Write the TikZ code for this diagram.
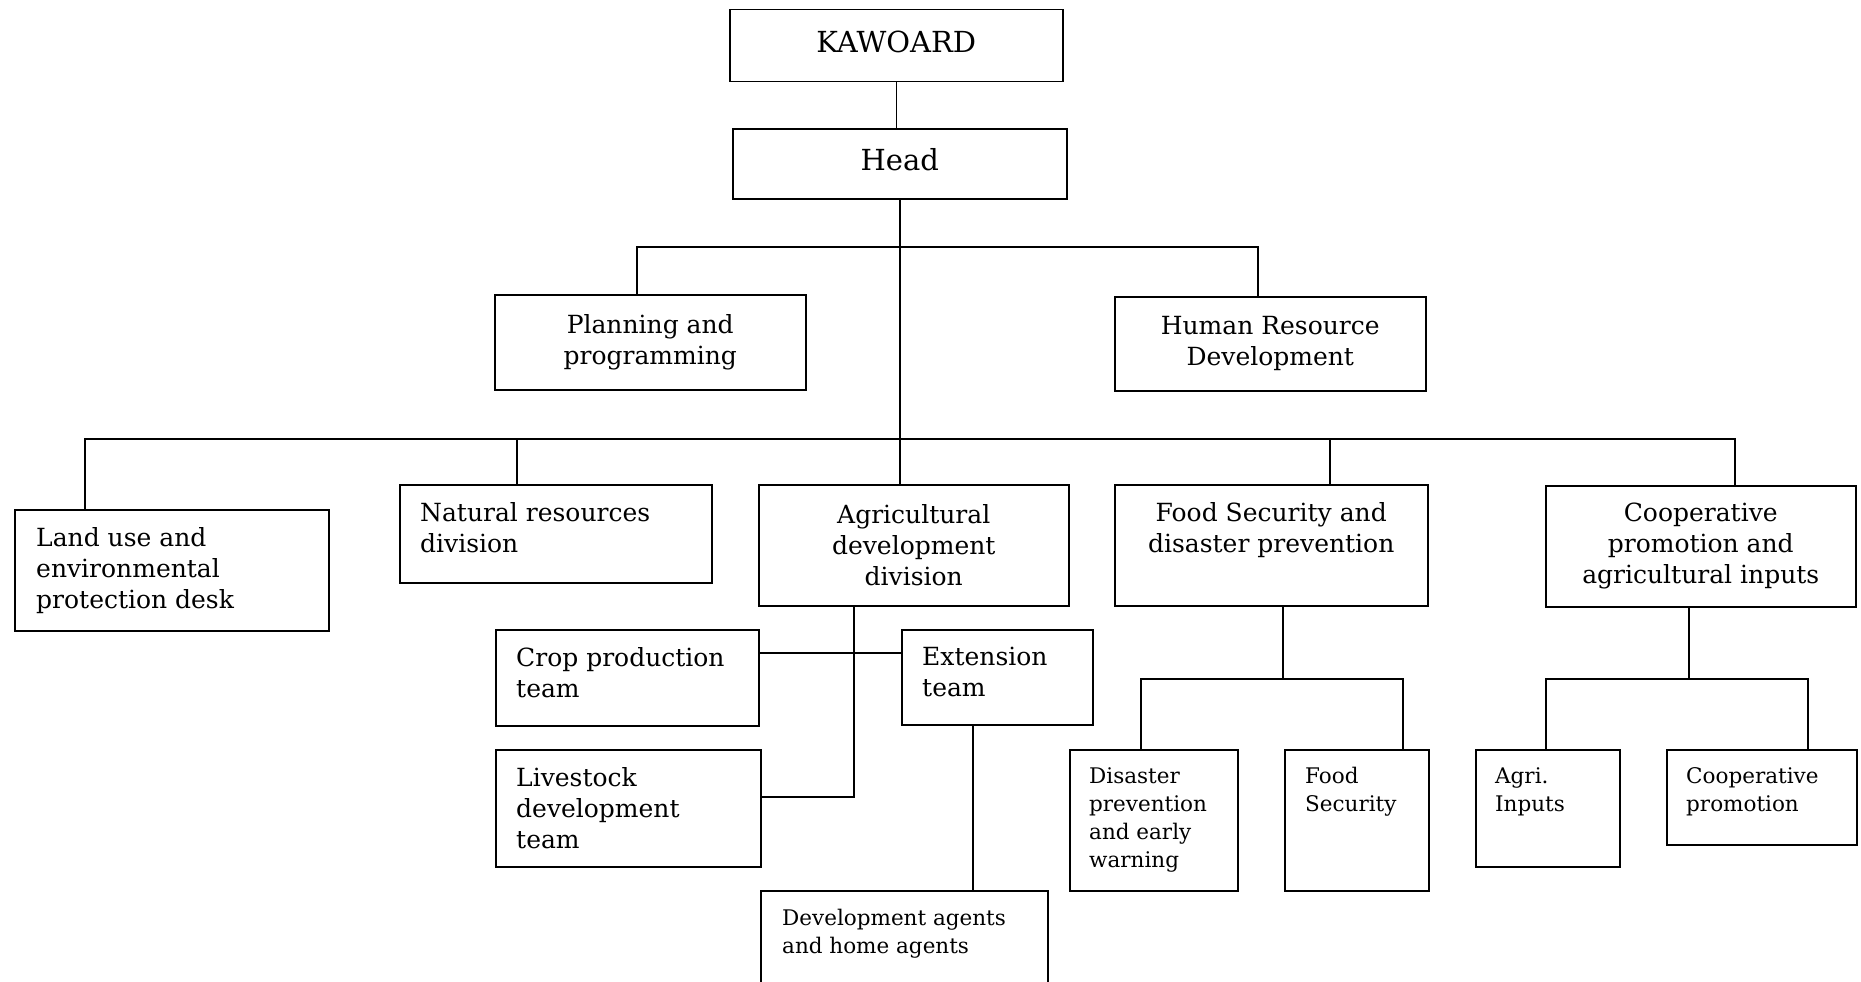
\documentclass[tikz,border=0pt]{standalone}
\usepackage{fontspec}
\setmainfont{DejaVu Serif}
\usetikzlibrary{positioning}

\tikzset{
  box/.style={draw, line width=1.5pt, anchor=north west, inner sep=0pt},
  link/.style={line width=1.5pt},
  bigfont/.style={font=\fontsize{29}{35}\selectfont, text depth=8pt},
  midfont/.style={font=\fontsize{25}{31}\selectfont, align=center},
  lefttext/.style={font=\fontsize{25}{31}\selectfont, inner sep=0pt, align=left, anchor=north west},
  smalltext/.style={font=\fontsize{21.5}{28}\selectfont, inner sep=0pt, align=left, anchor=north west}
}

\begin{document}
\begin{tikzpicture}[x=1pt,y=1pt,yscale=-1]
        \clip (0,0) rectangle (1861,982);

        % top of the chart
        \node[box, bigfont, minimum width=333, minimum height=72] (kawoard) at (729,9) {KAWOARD};
        \node[box, bigfont, minimum width=334, minimum height=70] (head) at (732,128) {Head};
        \node[box, midfont, minimum width=311, minimum height=95] (plan) at (494,294) {Planning and\\programming};
        \node[box, midfont, minimum width=311, minimum height=94] (hrd) at (1114,296) {Human Resource\\Development};

        % divisions
        \node[box, minimum width=314, minimum height=121] (land) at (14,509) {};
        \node[box, minimum width=312, minimum height=98] (natural) at (399,484) {};
        \node[box, midfont, minimum width=310, minimum height=121] (agri) at (758,484) {Agricultural\\development\\division};
        \node[box, minimum width=313, minimum height=121] (food) at (1114,484) {};
        \node[box, midfont, minimum width=310, minimum height=121] (coop) at (1545,485) {Cooperative\\promotion and\\agricultural inputs};

        % teams
        \node[box, minimum width=263, minimum height=96] (crop) at (495,629) {};
        \node[box, minimum width=191, minimum height=95] (ext) at (901,629) {};
        \node[box, minimum width=265, minimum height=117] (live) at (495,749) {};
        \node[box, minimum width=287, minimum height=130] (dev) at (760,890) {};
        \node[box, minimum width=168, minimum height=141] (disaster) at (1069,749) {};
        \node[box, minimum width=144, minimum height=141] (foodsec) at (1284,749) {};
        \node[box, minimum width=144, minimum height=117] (inputs) at (1475,749) {};
        \node[box, minimum width=190, minimum height=95] (coopprom) at (1666,749) {};

        % texts at the top of the boxes
        \node[lefttext] (landtxt) at ([shift={(22,18)}]land.north west) {Land use and\\environmental\\protection desk};
        \node[lefttext] (naturaltxt) at ([shift={(21,18)}]natural.north west) {Natural resources\\division};
        \node[lefttext, anchor=north, align=center] (foodtxt) at ([shift={(0,18)}]food.north) {Food Security and\\disaster prevention};
        \node[lefttext] (croptxt) at ([shift={(21,18)}]crop.north west) {Crop production\\team};
        \node[lefttext] (exttxt) at ([shift={(21,18)}]ext.north west) {Extension\\team};
        \node[lefttext] (livetxt) at ([shift={(21,18)}]live.north west) {Livestock\\development\\team};
        \node[smalltext] (devtxt) at ([shift={(22,19)}]dev.north west) {Development agents\\and home agents};
        \node[smalltext] (disastertxt) at ([shift={(20,18)}]disaster.north west) {Disaster\\prevention\\and early\\warning};
        \node[smalltext] (foodsectxt) at ([shift={(21,18)}]foodsec.north west) {Food\\Security};
        \node[smalltext] (inputstxt) at ([shift={(20,18)}]inputs.north west) {Agri.\\Inputs};
        \node[smalltext] (coopromtxt) at ([shift={(20,18)}]coopprom.north west) {Cooperative\\promotion};

        % joints of the lines
        \coordinate (pj) at (637,247);
        \coordinate (hj) at (1258,247);
        \coordinate (lj) at (85,439);
        \coordinate (nj) at (517,439);
        \coordinate (fj) at (1330,439);
        \coordinate (cj) at (1735,439);
        \coordinate (agbend) at (854,797);
        \coordinate (cebar) at (854,653);
        \coordinate (devdrop) at (973,800);
        \coordinate (fk) at (1283,679);
        \coordinate (fkl) at (1141,679);
        \coordinate (fkr) at (1403,679);
        \coordinate (ck) at (1689,679);
        \coordinate (ckl) at (1546,679);
        \coordinate (ckr) at (1808,679);

        % lines
        \draw[link] (kawoard.south) -- (kawoard.south |- head.north);
        \draw[link] (head.south) -- (head.south |- agri.north);
        \draw[link] (plan.north -| pj) -- (pj) -- (hj) -- (hrd.north -| hj);
        \draw[link] (land.north -| lj) -- (lj) -- (cj) -- (coop.north -| cj);
        \draw[link] (natural.north -| nj) -- (nj);
        \draw[link] (food.north -| fj) -- (fj);
        \draw[link] (agri.south -| agbend) -- (agbend) -- (agbend -| live.east);
        \draw[link] (cebar -| crop.east) -- (cebar -| ext.west);
        \draw[link] (ext.south -| devdrop) -- (dev.north -| devdrop);
        \draw[link] (food.south -| fk) -- (fk);
        \draw[link] (disaster.north -| fkl) -- (fkl) -- (fkr) -- (foodsec.north -| fkr);
        \draw[link] (coop.south -| ck) -- (ck);
        \draw[link] (inputs.north -| ckl) -- (ckl) -- (ckr) -- (coopprom.north -| ckr);

\end{tikzpicture}
\end{document}
